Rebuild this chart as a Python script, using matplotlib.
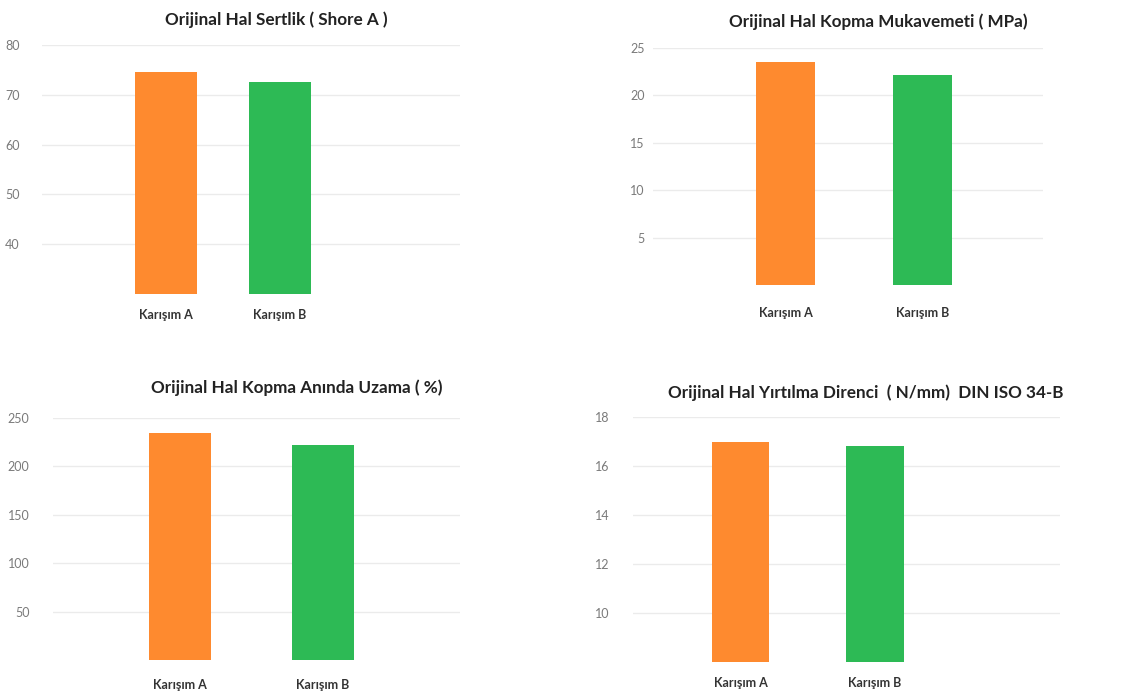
import matplotlib
matplotlib.use("Agg")
import matplotlib.pyplot as plt

plt.rcParams["font.family"] = ["Lato", "DejaVu Sans"]

categories = ["Karışım A", "Karışım B"]

titles = [
    "Orijinal Hal Sertlik ( Shore A )",
    "Orijinal Hal Kopma Mukavemeti ( MPa)",
    "Orijinal Hal Kopma Anında Uzama ( %)",
    "Orijinal Hal Yırtılma Direnci  ( N/mm)  DIN ISO 34-B",
]

hardness = [74.5, 72.6]
tensile = [23.5, 22.2]
elongation = [235, 222]
tear = [17.0, 16.8]

hardness_ticks = [40, 50, 60, 70, 80]
tensile_ticks = [5, 10, 15, 20, 25]
elongation_ticks = [50, 100, 150, 200, 250]
tear_ticks = [10, 12, 14, 16, 18]

bar_colors = ["#fe8a2f", "#2dba55"]

W, H = 1144, 691
fig = plt.figure(figsize=(W / 100, H / 100), dpi=100)
fig.patch.set_facecolor("white")


def px_axes(x0, x1, ytop, ybot):
    return fig.add_axes([x0 / W, 1 - ybot / H, (x1 - x0) / W, (ybot - ytop) / H])


panels = [
    # axes box (px), values, ticks, ylim, xlim, bar width, ytick pad, xtick pad, title pos
    ((42, 460, 45, 294), hardness, hardness_ticks, (30, 80), (-1.09, 2.58), 0.55, 16, 11, (276, 20)),
    ((653, 1043, 48, 285), tensile, tensile_ticks, (0, 25), (-0.97, 1.88), 0.43, 6, 16, (878, 22)),
    ((53, 460, 418, 660), elongation, elongation_ticks, (0, 250), (-0.89, 1.96), 0.43, 17, 14, (297, 388)),
    ((633, 1060, 417, 662), tear, tear_ticks, (8, 18), (-0.80, 2.38), 0.43, 17, 11, (866, 393)),
]

for (box, vals, ticks, ylim, xlim, bw, ypad, xpad, tpos), title in zip(panels, titles):
    ax = px_axes(*box)
    x = range(len(categories))
    ax.bar(x, vals, width=bw, color=bar_colors, zorder=3)
    ax.set_ylim(*ylim)
    ax.set_xlim(*xlim)
    ax.set_yticks(ticks)
    ax.set_yticklabels([str(t) for t in ticks], fontsize=9, color="#7a7a7a")
    ax.set_xticks(list(x))
    ax.set_xticklabels(categories, fontsize=9, fontweight="bold", color="#333333")
    ax.tick_params(axis="y", length=0, pad=ypad)
    ax.tick_params(axis="x", length=0, pad=xpad)
    ax.grid(axis="y", color="#ebebeb", linewidth=1, zorder=0)
    for s in ax.spines.values():
        s.set_visible(False)
    fig.text(tpos[0] / W, 1 - tpos[1] / H, title, ha="center", va="center",
             fontsize=12.3, fontweight="bold", color="#222222")

fig.savefig("out.png", dpi=100, facecolor="white")
